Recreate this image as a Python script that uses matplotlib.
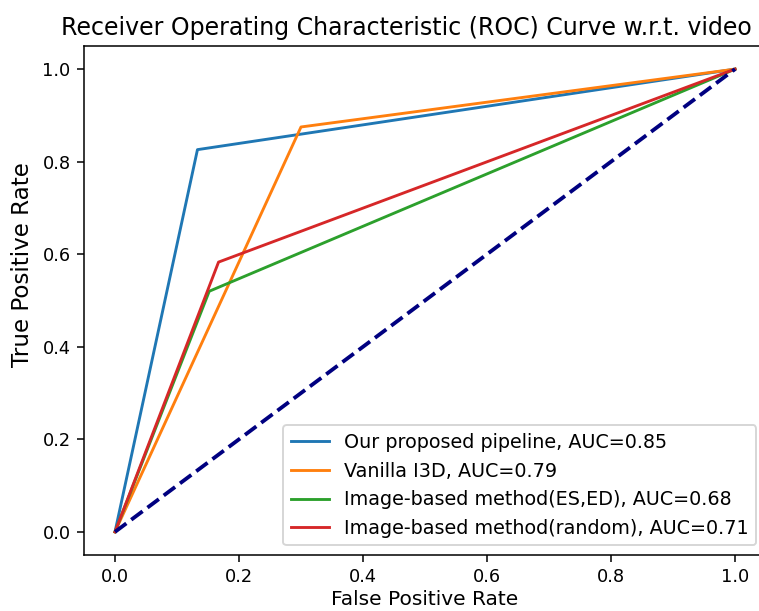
import matplotlib
matplotlib.use("Agg")
import matplotlib.pyplot as plt

labels = ["Our proposed pipeline, AUC=0.85",
          "Vanilla I3D, AUC=0.79",
          "Image-based method(ES,ED), AUC=0.68",
          "Image-based method(random), AUC=0.71"]
fpr_pipeline = [0.0, 0.133, 1.0]
tpr_pipeline = [0.0, 0.826, 1.0]
fpr_i3d = [0.0, 0.3, 1.0]
tpr_i3d = [0.0, 0.875, 1.0]
fpr_esed = [0.0, 0.152, 1.0]
tpr_esed = [0.0, 0.52, 1.0]
fpr_random = [0.0, 0.167, 1.0]
tpr_random = [0.0, 0.583, 1.0]
diag = [0.0, 1.0]

DPI = 137.7
fig = plt.figure(figsize=(759 / DPI, 611 / DPI), dpi=DPI)
ax = fig.add_axes([84 / 759, 56 / 611, 682 / 759, 509 / 611])

ax.plot(fpr_pipeline, tpr_pipeline, label=labels[0])
ax.plot(fpr_i3d, tpr_i3d, label=labels[1])
ax.plot(fpr_esed, tpr_esed, label=labels[2])
ax.plot(fpr_random, tpr_random, label=labels[3])
ax.plot(diag, diag, color="navy", lw=2, linestyle="--")

ax.tick_params(labelsize=9.3)
ax.set_xlabel("False Positive Rate", fontsize=10.5, labelpad=2)
ax.set_ylabel("True Positive Rate", fontsize=12)
ax.yaxis.set_label_coords(-0.074, 0.570)
ax.set_title("Receiver Operating Characteristic (ROC) Curve w.r.t. video",
             fontsize=12.4, x=0.472)
ax.legend(loc="lower right", fontsize=10)

fig.savefig("out.png", dpi=DPI)
